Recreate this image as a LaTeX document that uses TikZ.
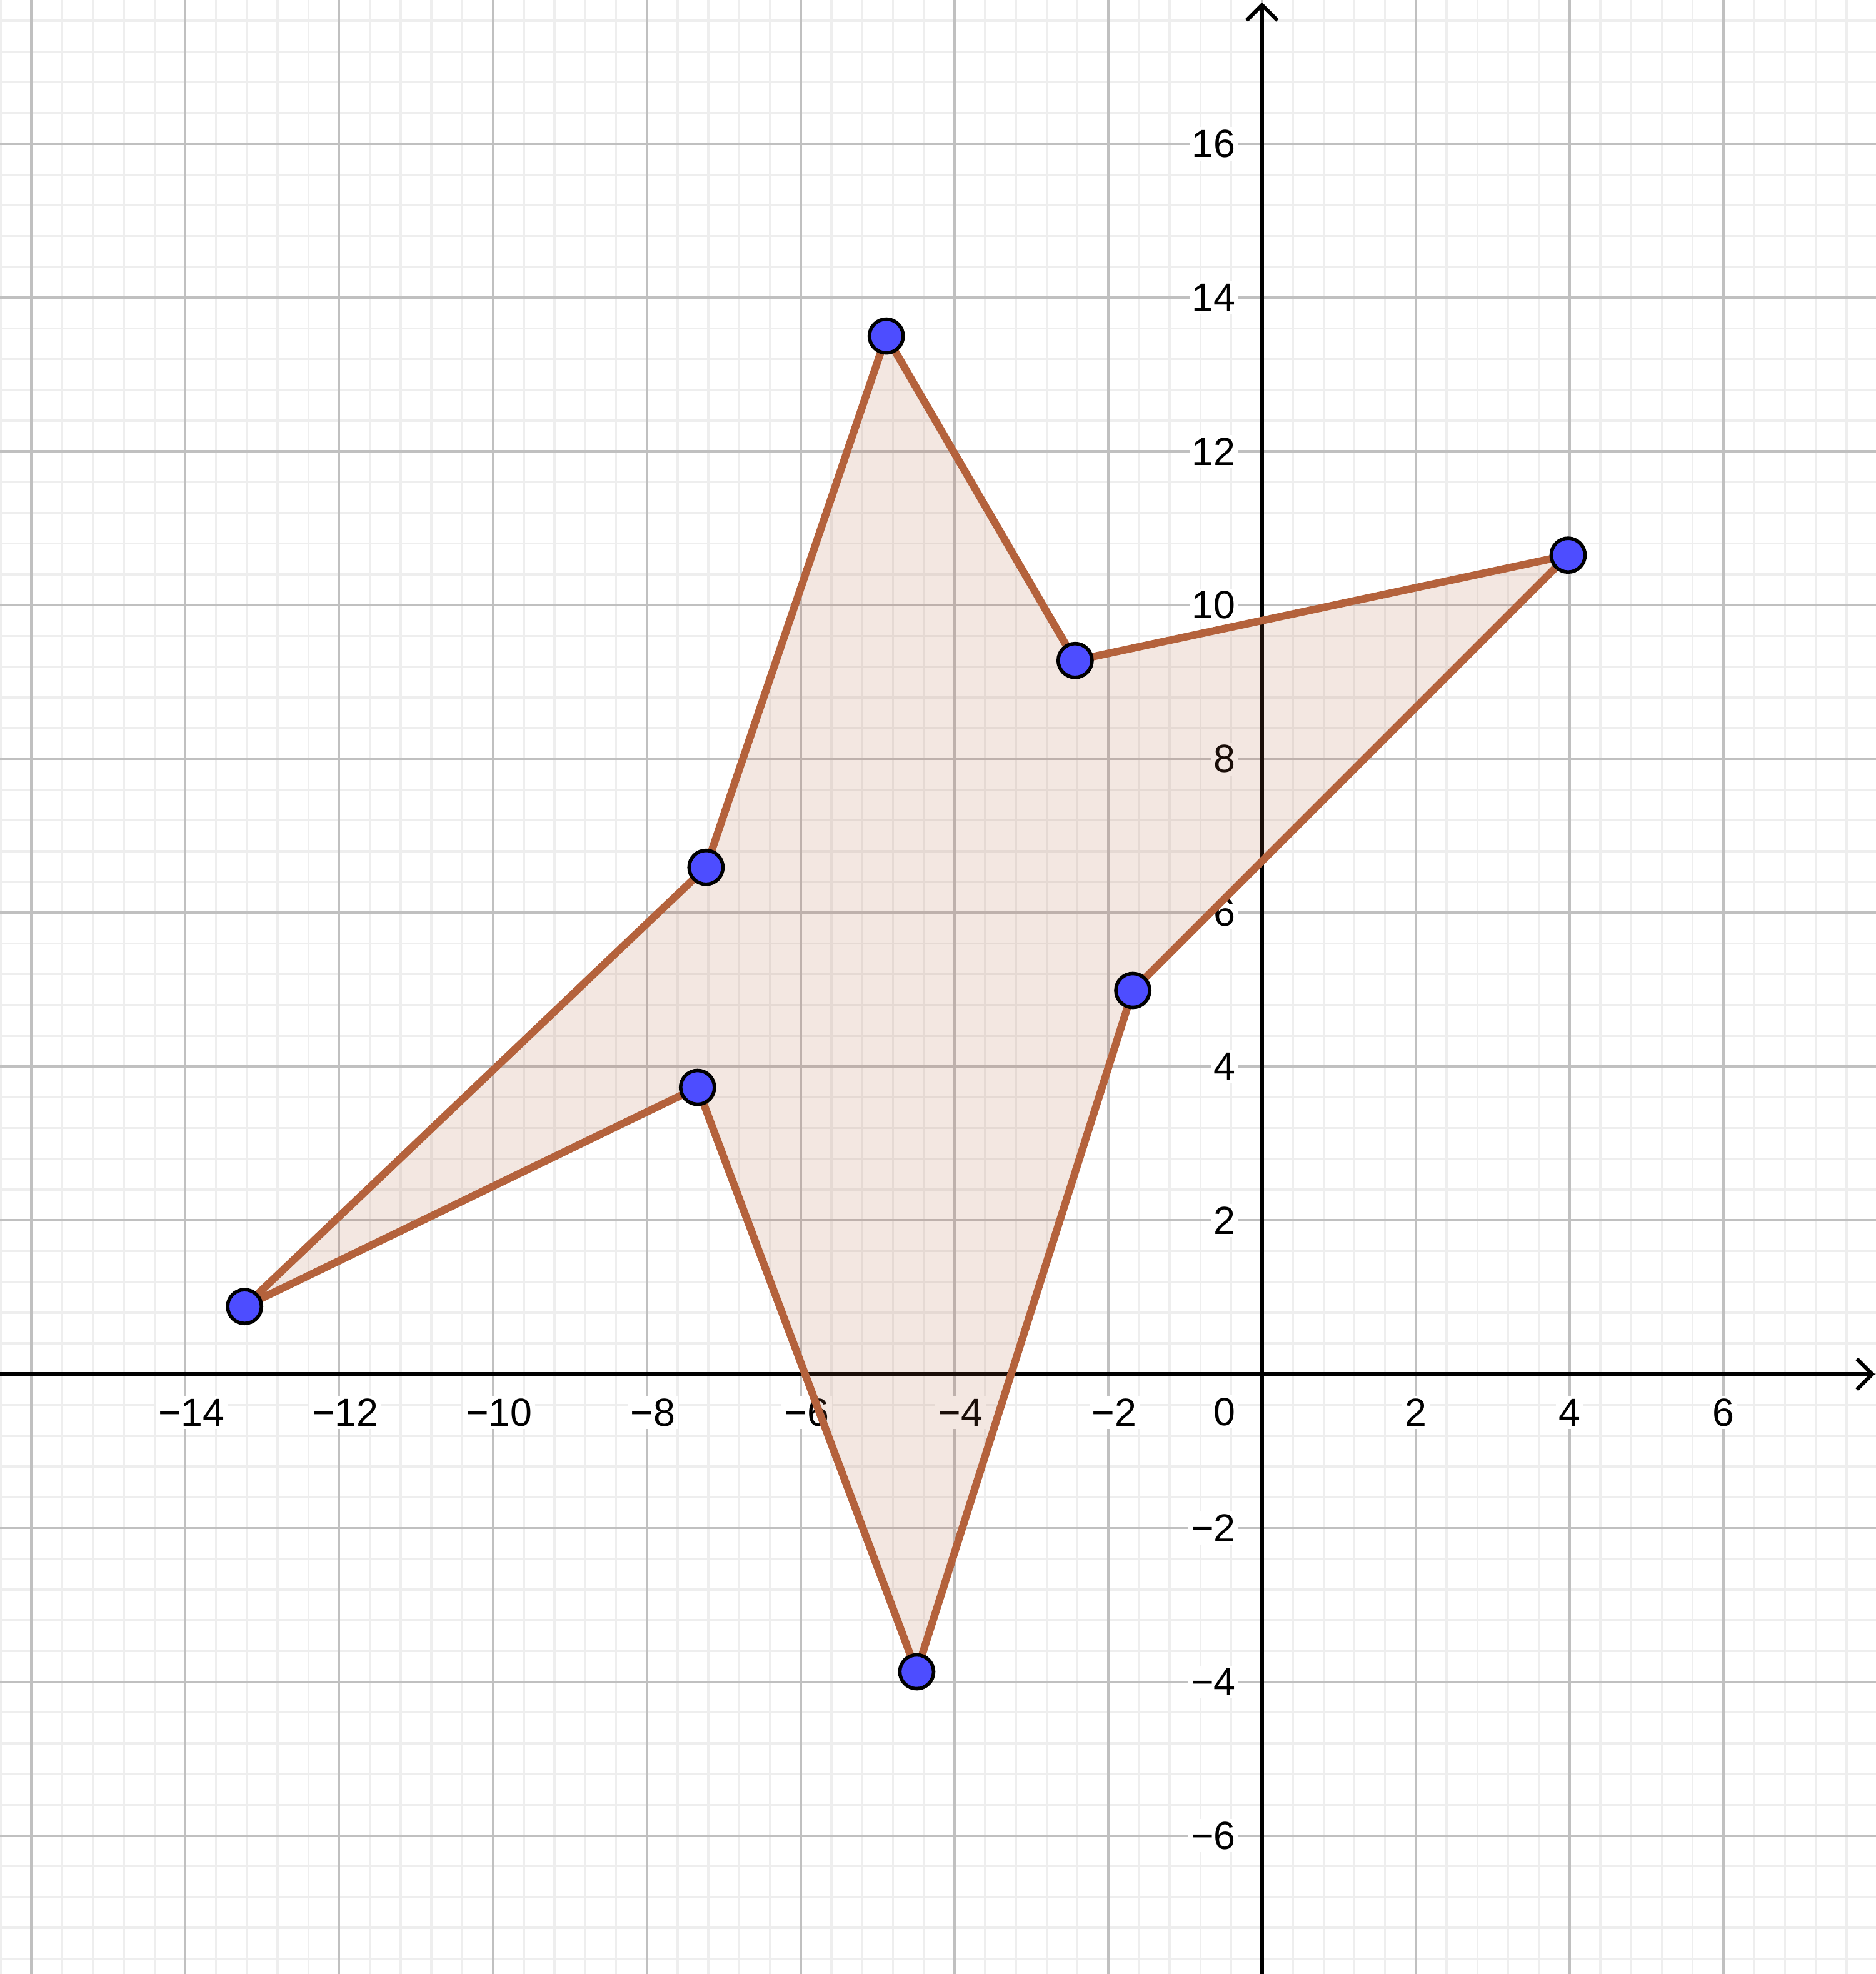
\documentclass[tikz,border=0pt]{standalone}
\usepackage{fontspec}
\setmainfont{Liberation Sans}
\usetikzlibrary{arrows.meta}
\definecolor{minorgrid}{RGB}{238,238,238}
\definecolor{majorgrid}{RGB}{192,192,192}
\definecolor{polyedge}{RGB}{180,98,60}
\definecolor{ptblue}{RGB}{77,77,255}
\begin{document}
\begin{tikzpicture}[x=1cm,y=1cm,
  minorline/.style={draw=minorgrid,line width=0.8pt},
  majorline/.style={draw=majorgrid,line width=0.9pt},
  axisline/.style={draw=black,line width=1.4pt,-{Straight Barb[length=0.2cm,width=0.4cm]}},
  polyline/.style={draw=polyedge,line width=2.8pt,line join=round},
  polyfill/.style={fill=polyedge,fill opacity=0.15},
  vertex/.style={circle,fill=ptblue,draw=black,line width=1.3pt,minimum size=0.44cm,inner sep=0pt},
  numfont/.style={font=\fontsize{14.5}{16}\selectfont},
  xlab/.style={numfont,fill=white,inner sep=1pt},
  ylab/.style={numfont,fill=white,inner sep=1pt,anchor=east}]
\useasboundingbox (-16.41,-7.80) rectangle (7.98,17.87);
\fill[white] (-16.41,-7.80) rectangle (7.98,17.87);
% minor grid
\foreach \i in {-41,...,19} \draw[minorline] (\i*0.4,-7.80) -- (\i*0.4,17.87);
\foreach \j in {-19,...,44} \draw[minorline] (-16.41,\j*0.4) -- (7.98,\j*0.4);
% major grid
\foreach \x in {-16,-14,...,6} \draw[majorline] (\x,-7.80) -- (\x,17.87);
\foreach \y in {-6,-4,...,16} \draw[majorline] (-16.41,\y) -- (7.98,\y);
% axes
\coordinate (xs) at (-16.41,0);
\coordinate (xe) at (7.97,0);
\coordinate (ys) at (0,-7.80);
\coordinate (ye) at (0,17.84);
\draw[axisline] (xs) -- (xe);
\draw[axisline] (ys) -- (ye);
% axis labels
\foreach \x in {-14,-12,...,-2} \node[xlab] (lx\x) at (\x+0.08,-0.5) {−\the\numexpr-\x\relax};
\foreach \x in {2,4,6} \node[xlab] (lx\x) at (\x,-0.5) {\x};
\node[xlab] (l0) at (-0.49,-0.49) {0};
\foreach \y in {-6,-4,-2} \node[ylab] (ly\y) at (-0.30,\y) {−\the\numexpr-\y\relax};
\foreach \y in {2,4,...,16} \node[ylab] (ly\y) at (-0.30,\y) {\y};
% polygon
\coordinate (A) at (-13.23,0.88);
\coordinate (B) at (-7.23,6.59);
\coordinate (C) at (-4.886,13.50);
\coordinate (D) at (-2.43,9.28);
\coordinate (E) at (3.98,10.65);
\coordinate (F) at (-1.68,4.99);
\coordinate (G) at (-4.49,-3.87);
\coordinate (H) at (-7.34,3.73);
\fill[polyfill] (A) -- (B) -- (C) -- (D) -- (E) -- (F) -- (G) -- (H) -- cycle;
\draw[polyline] (A) -- (B) -- (C) -- (D) -- (E) -- (F) -- (G) -- (H) -- cycle;
\foreach \p in {A,B,C,D,E,F,G,H} \node[vertex] (v\p) at (\p) {};
\end{tikzpicture}
\end{document}
